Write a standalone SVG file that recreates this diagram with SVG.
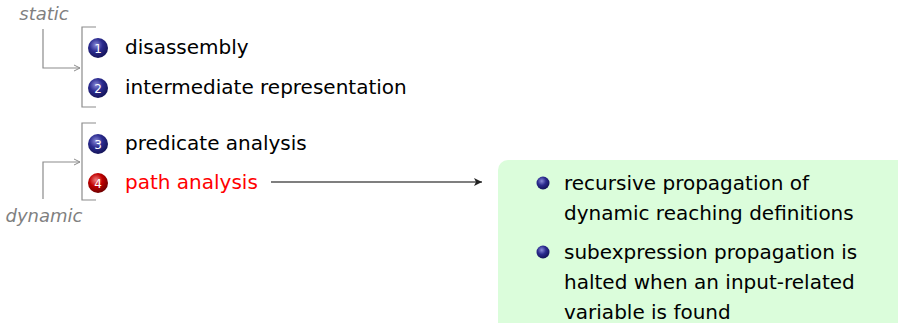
<svg xmlns="http://www.w3.org/2000/svg" width="898" height="323" viewBox="0 0 898 323">
<style>
.t{font-family:"DejaVu Sans",sans-serif;font-size:20px;fill:#000}
.red{fill:#ff0000}
.lab{font-family:"DejaVu Sans",sans-serif;font-size:18px;font-style:italic;fill:#808080}
.num{font-family:"DejaVu Sans",sans-serif;font-size:12px;fill:#fff;text-anchor:middle}
.g{fill:none;stroke:#8c8c8c;stroke-width:1.2}
.conn{fill:none;stroke:#555;stroke-width:1.6}
</style>
<defs>
<radialGradient id="bb" cx="0.4" cy="0.35" r="0.65">
<stop offset="0" stop-color="#8a8ad8"/><stop offset="0.5" stop-color="#2b2b8f"/><stop offset="1" stop-color="#14145a"/>
</radialGradient>
<radialGradient id="rb" cx="0.4" cy="0.35" r="0.65">
<stop offset="0" stop-color="#f08080"/><stop offset="0.5" stop-color="#c00000"/><stop offset="1" stop-color="#700000"/>
</radialGradient>
<marker id="ah" markerWidth="10" markerHeight="8" refX="8" refY="4" orient="auto" markerUnits="userSpaceOnUse">
<path d="M0,0 L8,4 L0,8 L2,4 Z" fill="#222"/>
</marker>
<marker id="ag" markerWidth="8" markerHeight="8" refX="6" refY="4" orient="auto" markerUnits="userSpaceOnUse">
<path d="M0,1 L6,4 L0,7" fill="none" stroke="#8c8c8c" stroke-width="1"/>
</marker>
</defs>
<g id="static-label"><text class="lab" x="44" y="20" text-anchor="middle">static</text></g>
<g id="dynamic-label"><text class="lab" x="44" y="222" text-anchor="middle">dynamic</text></g>
<g id="bracket-static"><path class="g" d="M96,27 H82 V107 H96"/></g>
<g id="bracket-dynamic"><path class="g" d="M96,123 H82 V200 H96"/></g>
<g id="item1"><circle cx="98" cy="48" r="10" fill="url(#bb)"/><text class="num" x="98" y="52.5">1</text><text class="t" x="125" y="54">disassembly</text></g>
<g id="item2"><circle cx="98" cy="88" r="10" fill="url(#bb)"/><text class="num" x="98" y="92.5">2</text><text class="t" x="125" y="94">intermediate representation</text></g>
<g id="item3"><circle cx="98" cy="144" r="10" fill="url(#bb)"/><text class="num" x="98" y="148.5">3</text><text class="t" x="125" y="150">predicate analysis</text></g>
<g id="item4"><circle cx="98" cy="183" r="10" fill="url(#rb)"/><text class="num" x="98" y="187.5">4</text><text class="t red" x="125" y="189">path analysis</text></g>
<g id="details">
<rect x="498" y="160" width="420" height="180" rx="10" fill="#dbfddb"/>
<circle cx="543" cy="183" r="6.5" fill="url(#bb)"/>
<text class="t" x="564" y="190">recursive propagation of</text>
<text class="t" x="564" y="220">dynamic reaching definitions</text>
<circle cx="543" cy="252" r="6.5" fill="url(#bb)"/>
<text class="t" x="564" y="259">subexpression propagation is</text>
<text class="t" x="564" y="289">halted when an input-related</text>
<text class="t" x="564" y="319">variable is found</text>
</g>
<g id="connectors">
<path class="g" d="M43,29 V68 H80" marker-end="url(#ag)"/>
<path class="g" d="M43,199 V162 H80" marker-end="url(#ag)"/>
<path class="conn" d="M271,182 H482" marker-end="url(#ah)"/>
</g>
</svg>
